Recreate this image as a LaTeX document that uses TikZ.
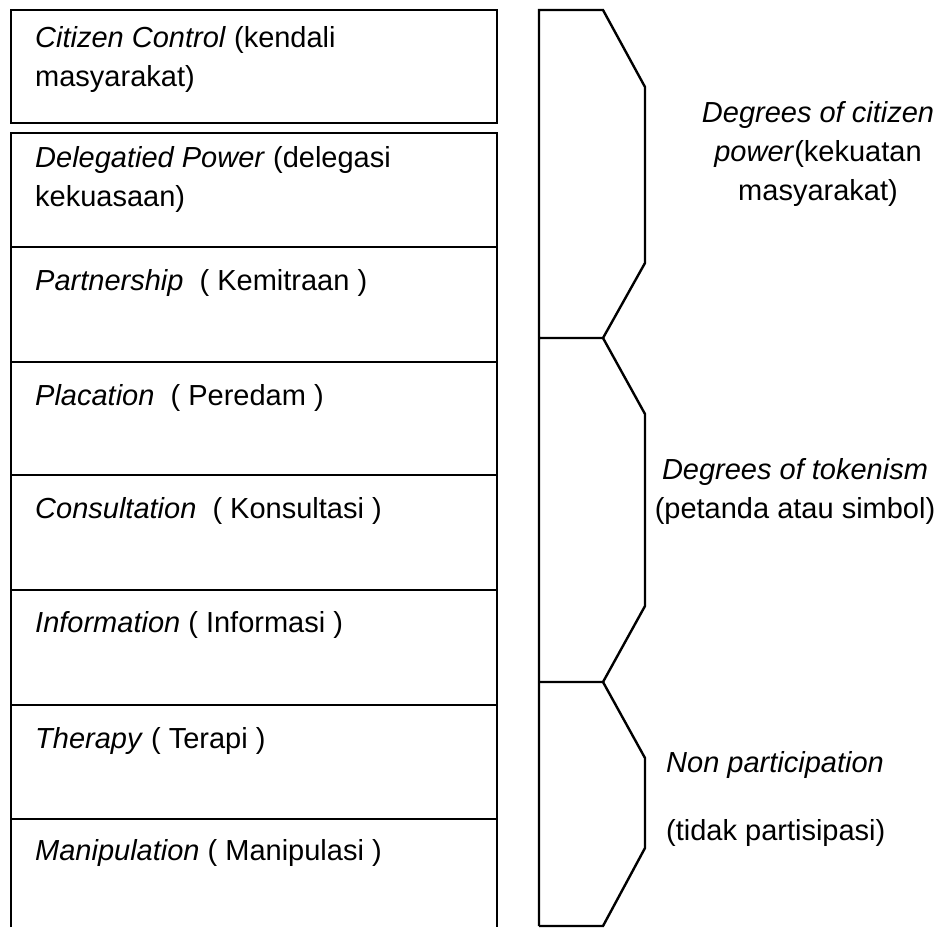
\documentclass[tikz,border=0pt]{standalone}
\usepackage{fontspec}
\setmainfont{Liberation Sans}
\usepackage{tikz}

\begin{document}
\begin{tikzpicture}[x=1pt,y=-1pt,line width=2.4pt,
    every node/.style={inner sep=0pt,font=\fontsize{29}{39}\selectfont},
    rung/.style={anchor=base west,align=left},
    degree/.style={anchor=base,align=center}]
    \useasboundingbox (0,0) rectangle (945,927);
    % ladder
    \draw (11,10) rectangle (497,123);
    \draw (11,927)--(11,133)--(497,133)--(497,927);
    \foreach \y in {247,362,475,590,705,819}
        \draw (11,\y)--(497,\y);
    % base of a two line node sits on its last line
    \node [rung] (control) at (34,86) {\textit{Citizen Control} (kendali\\masyarakat)};
    \node [rung] (delegated) at (34,206) {\textit{Delegatied Power} (delegasi\\kekuasaan)};
    \node [rung] (partner) at (34,290) {\textit{Partnership}~ ( Kemitraan )};
    \node [rung] (placation) at (34,405) {\textit{Placation}~ ( Peredam )};
    \node [rung] (consult) at (34,518) {\textit{Consultation}~ ( Konsultasi )};
    \node [rung] (inform) at (34,632) {\textit{Information} ( Informasi )};
    \node [rung] (therapy) at (34,748) {\textit{Therapy} ( Terapi )};
    \node [rung] (manip) at (34,860) {\textit{Manipulation} ( Manipulasi )};
    % brackets
    \draw (539,926)--(539,10)--(603,10)--(645,87)--(645,263)--(603,338)--(539,338);
    \draw (603,338)--(645,414)--(645,606)--(603,682)--(539,682);
    \draw (603,682)--(645,758)--(645,848)--(603,926)--(539,926);
    \node [degree] (power) at (818,200) {\textit{Degrees of citizen}\\\textit{power}(kekuatan\\masyarakat)};
    \node [degree] (token) at (795,518) {\textit{Degrees of tokenism}\\(petanda atau simbol)};
    \node [rung] (nonpart) at (665,772) {\textit{Non participation}};
    \node [rung] (tidak) at (665,840) {(tidak partisipasi)};
\end{tikzpicture}
\end{document}
